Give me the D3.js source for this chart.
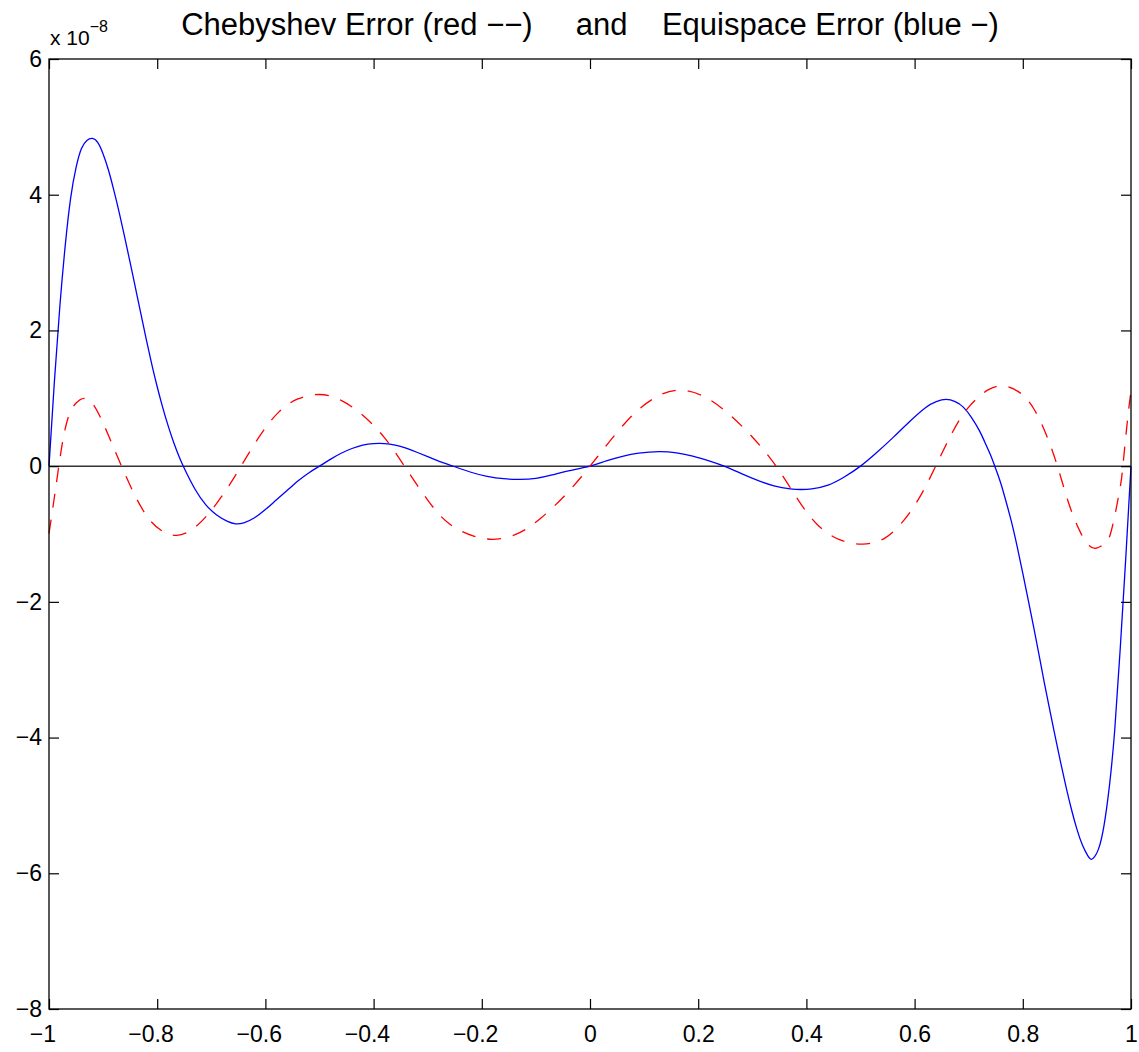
<!DOCTYPE html>
<html>
<head>
<meta charset="utf-8">
<script src="https://cdn.jsdelivr.net/npm/d3@7"></script>
<style>
  body { margin: 0; background: white; }
  text { font-family: "Liberation Sans", Arial, Helvetica, sans-serif; fill: black; }
</style>
</head>
<body>
<script>
// values are in units of 1e-8 (see the "x 10^-8" label)
const chebX = [-1, -0.989, -0.9765, -0.964, -0.95, -0.935, -0.92, -0.905, -0.89, -0.866, -0.84, -0.815, -0.79, -0.764, -0.735, -0.705, -0.675, -0.645,
  -0.61, -0.575, -0.54, -0.5, -0.46, -0.42, -0.38, -0.343, -0.3, -0.26, -0.215, -0.173, -0.13, -0.09, -0.045, 0,
  0.045, 0.085, 0.125, 0.165, 0.21, 0.255, 0.3, 0.344, 0.385, 0.42, 0.46, 0.504, 0.545, 0.58, 0.61, 0.639,
  0.67, 0.7, 0.735, 0.7655, 0.795, 0.82, 0.843, 0.864, 0.885, 0.905, 0.92, 0.935, 0.95, 0.963, 0.9785, 0.985, 0.9935, 1]
const chebY = [-0.99, -0.4, 0.28, 0.73, 0.93, 1.0, 0.93, 0.72, 0.45, 0, -0.45, -0.78, -0.96, -1.02, -0.93, -0.7, -0.38, 0,
  0.45, 0.8, 0.99, 1.056, 0.97, 0.75, 0.42, 0, -0.5, -0.85, -1.03, -1.076, -0.98, -0.76, -0.42, 0,
  0.45, 0.8, 1.03, 1.12, 1.03, 0.78, 0.43, 0, -0.5, -0.86, -1.08, -1.149, -1.06, -0.8, -0.45, 0,
  0.5, 0.87, 1.12, 1.18, 1.08, 0.85, 0.47, 0, -0.55, -0.95, -1.15, -1.21, -1.15, -0.97, -0.38, 0, 0.68, 1.1]

const equiX = [-1, -0.99, -0.98, -0.97, -0.96, -0.95, -0.94, -0.93, -0.92, -0.91, -0.9, -0.89, -0.88, -0.87, -0.86, -0.85,
  -0.84, -0.83, -0.82, -0.81, -0.8, -0.79, -0.78, -0.77, -0.76, -0.75, -0.73, -0.71, -0.69, -0.67, -0.655, -0.64, -0.62,
  -0.6, -0.58, -0.56, -0.54, -0.52, -0.5, -0.48, -0.46, -0.44, -0.42, -0.4, -0.38, -0.36, -0.34, -0.32, -0.3, -0.28,
  -0.26, -0.22, -0.19, -0.16, -0.13, -0.1, -0.07, -0.04, 0, 0.03, 0.06, 0.09, 0.128, 0.16, 0.19, 0.22, 0.248,
  0.28, 0.31, 0.34, 0.37, 0.39, 0.41, 0.44, 0.47, 0.5, 0.53, 0.56, 0.59, 0.62, 0.64, 0.658, 0.675, 0.69, 0.705,
  0.72, 0.73, 0.74, 0.75, 0.76, 0.77, 0.78, 0.79, 0.8, 0.81, 0.82, 0.83, 0.84, 0.85, 0.86, 0.87, 0.88, 0.89,
  0.9, 0.91, 0.92, 0.925, 0.93, 0.94, 0.95, 0.96, 0.97, 0.98, 0.99, 1]
const equiY = [0, 1.25, 2.35, 3.25, 3.95, 4.4, 4.68, 4.8, 4.83, 4.77, 4.6, 4.36, 4.06, 3.73, 3.37, 3.0,
  2.62, 2.24, 1.86, 1.5, 1.17, 0.87, 0.6, 0.36, 0.15, -0.03, -0.34, -0.57, -0.72, -0.815, -0.85, -0.835, -0.76,
  -0.64, -0.5, -0.36, -0.22, -0.1, 0, 0.1, 0.19, 0.26, 0.31, 0.333, 0.333, 0.31, 0.265, 0.205, 0.14, 0.075,
  0.02, -0.09, -0.15, -0.185, -0.196, -0.18, -0.13, -0.07, 0, 0.077, 0.145, 0.192, 0.215, 0.196, 0.148, 0.078, 0,
  -0.11, -0.21, -0.29, -0.335, -0.344, -0.335, -0.28, -0.16, 0, 0.2, 0.42, 0.65, 0.86, 0.95, 0.983, 0.95, 0.87, 0.72,
  0.52, 0.35, 0.17, -0.04, -0.27, -0.55, -0.85, -1.2, -1.58, -1.97, -2.37, -2.78, -3.2, -3.6, -3.99, -4.37, -4.73, -5.06,
  -5.35, -5.58, -5.74, -5.79, -5.78, -5.64, -5.3, -4.72, -3.88, -2.7, -1.4, 0]

const xTicks = d3.range(-1, 1.0001, 0.2).map(d => +d.toFixed(1))
const yTicks = [-8, -6, -4, -2, 0, 2, 4, 6]
const titleText = 'Chebyshev Error (red \u2212\u2212)     and    Equispace Error (blue \u2212)'

// Layout
const width = 1139, height = 1052
const margin = { top: 59, right: 8, bottom: 43, left: 49 }
const w = width - margin.left - margin.right
const h = height - margin.top - margin.bottom

const svg = d3.select('body').append('svg')
    .attr('width', width)
    .attr('height', height)
    .style('background-color', 'white')

const g = svg.append('g')
    .attr('transform', `translate(${margin.left},${margin.top})`)

const xScale = d3.scaleLinear().domain([-1, 1]).range([0, w])
const yScale = d3.scaleLinear().domain([-8, 6]).range([h, 0])

// zero line
g.append('line')
    .attr('x1', xScale(-1)).attr('x2', xScale(1))
    .attr('y1', yScale(0)).attr('y2', yScale(0))
    .style('stroke', '#333')
    .style('stroke-width', 1.5)

const line = (xs) => d3.line()
    .x((d, i) => xScale(xs[i]))
    .y(d => yScale(d))
    .curve(d3.curveNatural)

// Equispace error, blue solid
g.append('path')
    .datum(equiY)
    .attr('d', line(equiX))
    .style('fill', 'none')
    .style('stroke', '#0000ff')
    .style('stroke-width', 1.3)

// Chebyshev error, red dashed
g.append('path')
    .datum(chebY)
    .attr('d', line(chebX))
    .style('fill', 'none')
    .style('stroke', '#ff0000')
    .style('stroke-width', 1.3)
    .style('stroke-dasharray', '14,12')

// Axes, ticks inside on all four sides
const fmt = d3.format('')
const xAxis = g.append('g')
    .attr('transform', `translate(0,${h})`)
    .call(d3.axisBottom(xScale).tickValues(xTicks).tickSizeInner(-10).tickSizeOuter(0).tickFormat(fmt))
xAxis.selectAll('text')
    .attr('y', 33).attr('dy', 0)
    .attr('dx', d => d < 0 ? '-0.29em' : 0)

const yAxis = g.append('g')
    .call(d3.axisLeft(yScale).tickValues(yTicks).tickSizeInner(-10).tickSizeOuter(0).tickPadding(7).tickFormat(fmt))

g.append('g')
    .call(d3.axisTop(xScale).tickValues(xTicks).tickSizeInner(-10).tickSizeOuter(0).tickFormat(''))
g.append('g')
    .attr('transform', `translate(${w},0)`)
    .call(d3.axisRight(yScale).tickValues(yTicks).tickSizeInner(-10).tickSizeOuter(0).tickFormat(''))

g.selectAll('.domain').remove()
g.selectAll('.tick line').style('stroke', 'black').style('stroke-width', 1.2)
g.selectAll('.tick text')
    .style('font-family', '"Liberation Sans", Arial, Helvetica, sans-serif')
    .style('font-size', '23px')
    .style('fill', 'black')

g.append('rect')
    .attr('width', w).attr('height', h)
    .style('fill', 'none')
    .style('stroke', 'black')
    .style('stroke-width', 1.3)

// exponent label
const expo = svg.append('text')
    .attr('x', margin.left + 1)
    .attr('y', 45)
    .style('font-size', '21px')
expo.append('tspan').text('x 10')
expo.append('tspan').attr('dy', -13).style('font-size', '16px').text('\u22128')

// title
svg.append('text')
    .attr('x', margin.left + w / 2)
    .attr('y', 35)
    .attr('text-anchor', 'middle')
    .style('font-size', '31px')
    .style('white-space', 'pre')
    .text(titleText)
</script>
</body>
</html>
